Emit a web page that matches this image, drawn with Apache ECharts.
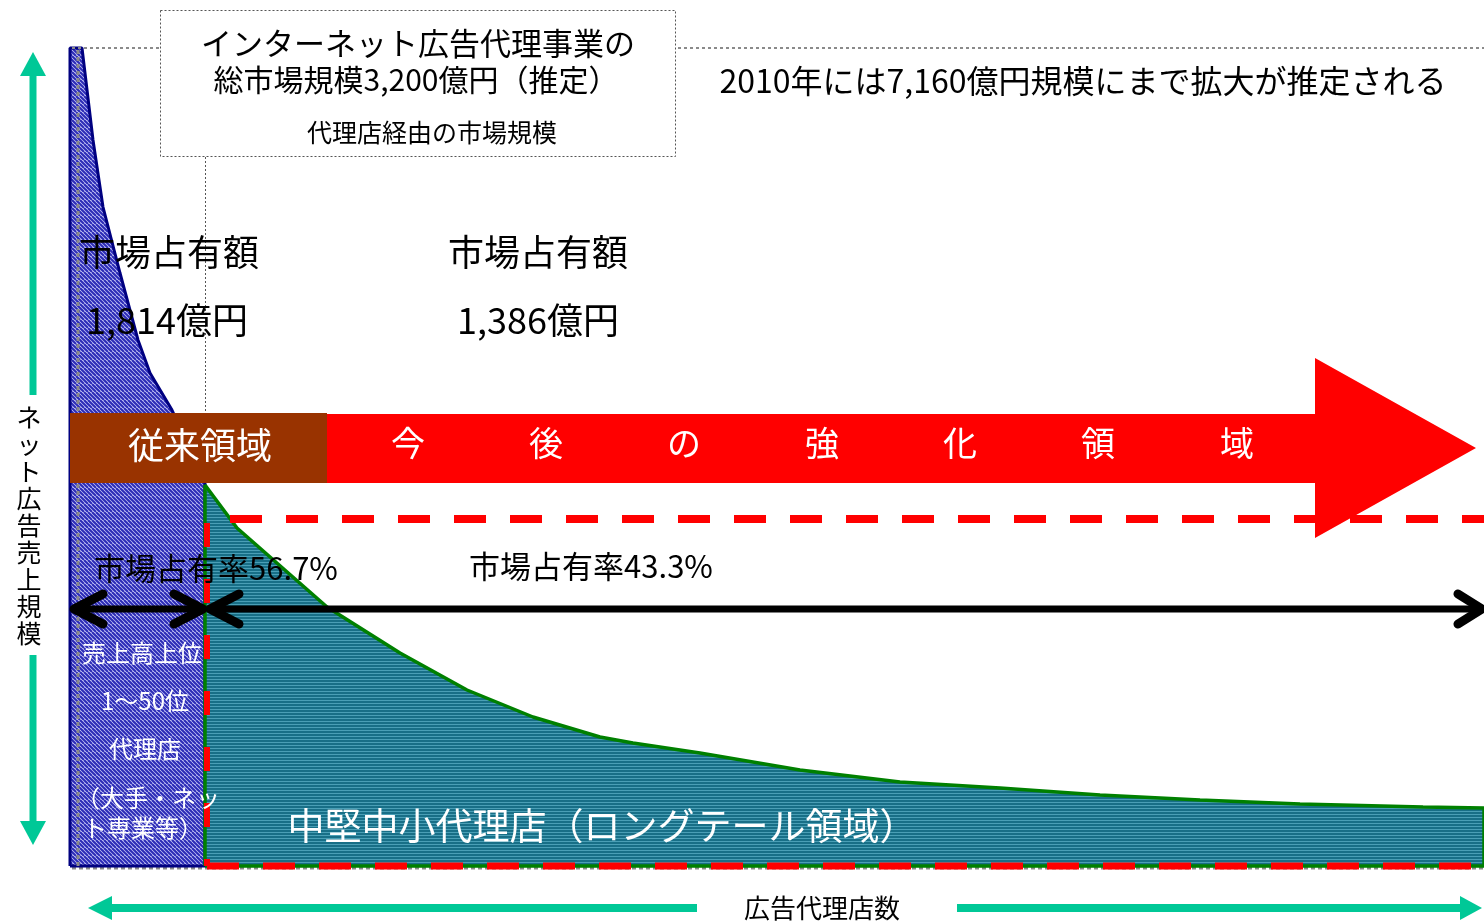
<!DOCTYPE html>
<html><head><meta charset="utf-8">
<script src="https://cdn.jsdelivr.net/npm/echarts@6/dist/echarts.min.js"></script>
<style>html,body{margin:0;padding:0;background:#fff}#c{width:1484px;height:923px}</style>
</head><body><div id="c"></div><script>
// ---- data (x: agency rank units, y: sales scale units) ----
const topAgencyX = [0, 0, 12, 23, 33, 50, 68, 80, 102, 135, 135, 0];
const topAgencyY = [0, 818, 818, 726, 659, 593, 526, 493, 456, 383, 0, 0];
const longTailX = [135, 135, 167, 257, 330, 397, 463, 530, 563, 630, 730, 830, 930, 1030, 1130, 1230, 1353, 1414, 1414, 135];
const longTailY = [0, 381, 338, 259, 213, 176, 149, 129, 123, 113, 96, 84, 78, 71, 66, 62, 59, 58, 0, 0];
const tailBoxX = [137, 1414];
const tailBoxTopY = [347];
const axisRangeX = [0, 1414];
const axisRangeY = [0, 818];

const zip = (xs, ys) => xs.map((x, i) => [x, ys[i]]);

function makePattern(w, h, draw) {
  const c = document.createElement('canvas');
  c.width = w; c.height = h;
  draw(c.getContext('2d'), w, h);
  return c;
}
const bluePat = makePattern(8, 8, (g) => {
  g.fillStyle = '#c6c6f6'; g.fillRect(0, 0, 8, 8);
  g.strokeStyle = '#2b2bb6'; g.lineWidth = 2;
  for (let k = -8; k <= 8; k += 4) { g.beginPath(); g.moveTo(k, 0); g.lineTo(k + 8, 8); g.stroke(); }
});
const tealPat = makePattern(3, 3, (g) => {
  g.fillStyle = '#186f87'; g.fillRect(0, 0, 3, 3);
  g.fillStyle = '#4a9fb6'; g.fillRect(0, 1, 3, 1);
});

const FONT = '"Noto Sans CJK JP", "Noto Sans", sans-serif';
const GREEN = '#00c897';
function txt(text, x, y, size, color, z, align) {
  return { type: 'text', z: z || 50, style: {
    text: text, x: x, y: y, fill: color || '#000', font: size + 'px ' + FONT,
    textAlign: align || 'center', align: align || 'center',
    textVerticalAlign: 'middle', verticalAlign: 'middle' } };
}
function ln(x1, y1, x2, y2, stroke, w, dash, z) {
  return { type: 'line', z: z || 40, shape: { x1, y1, x2, y2 },
    style: { stroke: stroke, lineWidth: w, lineDash: dash || null } };
}
function chevron(pts) {
  return { type: 'polyline', z: 60, shape: { points: pts },
    style: { stroke: '#000', lineWidth: 9, lineCap: 'round', lineJoin: 'round', fill: null } };
}

const graphics = [
  // grey dotted guides
  ln(72, 48, 1484, 48, '#8a8a8a', 2, [3, 3], 5),
  ln(78, 50, 78, 866, '#8a8a8a', 3, [4, 3], 5),
  ln(72, 868, 1484, 868, '#8a8a8a', 3, [4, 3], 1),
  // callout box
  { type: 'rect', z: 10, shape: { x: 160.5, y: 10.5, width: 515, height: 146 },
    style: { fill: '#fff', stroke: '#555', lineWidth: 1, lineDash: [2, 2] } },
  ln(205.5, 157, 205.5, 483, '#555', 1, [2, 2], 10),
  txt('インターネット広告代理事業の', 418, 43, 31, '#000', 11),
  txt('総市場規模3,200億円（推定）', 416, 80, 30, '#000', 11),
  txt('代理店経由の市場規模', 432, 132, 25, '#000', 11),
  txt('2010年には7,160億円規模にまで拡大が推定される', 1083, 81, 32, '#000', 11),
  // market share amounts
  txt('市場占有額', 169, 252, 36),
  txt('1,814億円', 167, 320, 36),
  txt('市場占有額', 538, 252, 36),
  txt('1,386億円', 538, 320, 36),
  // brown bar + red arrow
  { type: 'rect', z: 30, shape: { x: 70, y: 413, width: 257, height: 70 }, style: { fill: '#993300' } },
  { type: 'polygon', z: 30, shape: { points: [[327, 414], [1315, 414], [1315, 358], [1476, 448], [1315, 538], [1315, 483], [327, 483]] },
    style: { fill: '#ff0000' } },
  txt('従来領域', 200, 445, 36, '#fff', 31),
  txt('今', 408, 443, 34, '#fff', 31),
  txt('後', 546, 443, 34, '#fff', 31),
  txt('の', 684, 443, 34, '#fff', 31),
  txt('強', 822, 443, 34, '#fff', 31),
  txt('化', 960, 443, 34, '#fff', 31),
  txt('領', 1098, 443, 34, '#fff', 31),
  txt('域', 1237, 443, 34, '#fff', 31),
  // share rate arrows
  ln(74, 609, 203, 609, '#000', 7, null, 60),
  ln(210, 609, 1482, 609, '#000', 7, null, 60),
  chevron([[103, 594], [74, 609], [103, 624]]),
  chevron([[174, 594], [203, 609], [174, 624]]),
  chevron([[239, 594], [210, 609], [239, 624]]),
  chevron([[1458, 594], [1482, 609], [1458, 624]]),
  txt('市場占有率56.7%', 216, 568, 31),
  txt('市場占有率43.3%', 591, 566, 31),
  // white labels
  txt('売上高上位', 142, 653, 24, '#fff'),
  txt('1～50位', 145, 701, 24, '#fff'),
  txt('代理店', 145, 749, 24, '#fff'),
  txt('（大手・ネッ', 148, 798, 24, '#fff'),
  txt('ト専業等）', 143, 828, 24, '#fff'),
  txt('中堅中小代理店（ロングテール領域）', 602, 826, 37, '#fff'),
  // left vertical green arrow
  { type: 'rect', z: 20, shape: { x: 29.5, y: 72, width: 7, height: 323 }, style: { fill: GREEN } },
  { type: 'polygon', z: 20, shape: { points: [[33, 52], [46, 76], [20, 76]] }, style: { fill: GREEN } },
  { type: 'rect', z: 20, shape: { x: 29.5, y: 655, width: 7, height: 170 }, style: { fill: GREEN } },
  { type: 'polygon', z: 20, shape: { points: [[33, 845], [46, 821], [20, 821]] }, style: { fill: GREEN } },
  txt('ネ\nッ\nト\n広\n告\n売\n上\n規\n模', 29, 525, 25, '#000', 20),
  // bottom green arrows
  { type: 'rect', z: 20, shape: { x: 108, y: 904, width: 589, height: 8 }, style: { fill: GREEN } },
  { type: 'polygon', z: 20, shape: { points: [[88, 908], [112, 896], [112, 920]] }, style: { fill: GREEN } },
  { type: 'rect', z: 20, shape: { x: 957, y: 904, width: 506, height: 8 }, style: { fill: GREEN } },
  { type: 'polygon', z: 20, shape: { points: [[1482, 908], [1460, 896], [1460, 920]] }, style: { fill: GREEN } },
  txt('広告代理店数', 822, 908, 26, '#000', 20)
];
// vertical text line height
graphics.forEach(g => { if (g.type === 'text' && g.style.text.indexOf('\n') >= 0) g.style.lineHeight = 27; });

const chart = echarts.init(document.getElementById('c'), null, { renderer: 'canvas' });
chart.setOption({
  animation: false,
  backgroundColor: '#fff',
  grid: { left: 70, right: 0, top: 48, bottom: 57 },
  xAxis: { type: 'value', min: axisRangeX[0], max: axisRangeX[1], show: false },
  yAxis: { type: 'value', min: axisRangeY[0], max: axisRangeY[1], show: false },
  series: [
    { type: 'line', name: '上位代理店', data: zip(topAgencyX, topAgencyY), symbol: 'none', clip: false, z: 2,
      lineStyle: { color: '#000080', width: 3 }, areaStyle: { color: { image: bluePat, repeat: 'repeat' }, opacity: 1 } },
    { type: 'line', name: '中堅中小代理店', data: zip(longTailX, longTailY), symbol: 'none', clip: false, z: 3,
      lineStyle: { color: '#008000', width: 3.5 }, areaStyle: { color: { image: tealPat, repeat: 'repeat' }, opacity: 1 } },
    { type: 'line', data: [[tailBoxX[0] + 23, tailBoxTopY[0]], [tailBoxX[1], tailBoxTopY[0]]], symbol: 'none', clip: false, z: 4,
      lineStyle: { color: '#ff0000', width: 8, type: [32, 24] } },
    { type: 'line', data: [[tailBoxX[0], tailBoxTopY[0] - 4], [tailBoxX[0], 0]], symbol: 'none', clip: false, z: 4,
      lineStyle: { color: '#ff0000', width: 6, type: [24, 32] } },
    { type: 'line', data: [[tailBoxX[0], 0], [tailBoxX[1], 0]], symbol: 'none', clip: false, z: 4,
      lineStyle: { color: '#ff0000', width: 7, type: [32, 24] } }
  ],
  graphic: { elements: graphics }
});
</script></body></html>
